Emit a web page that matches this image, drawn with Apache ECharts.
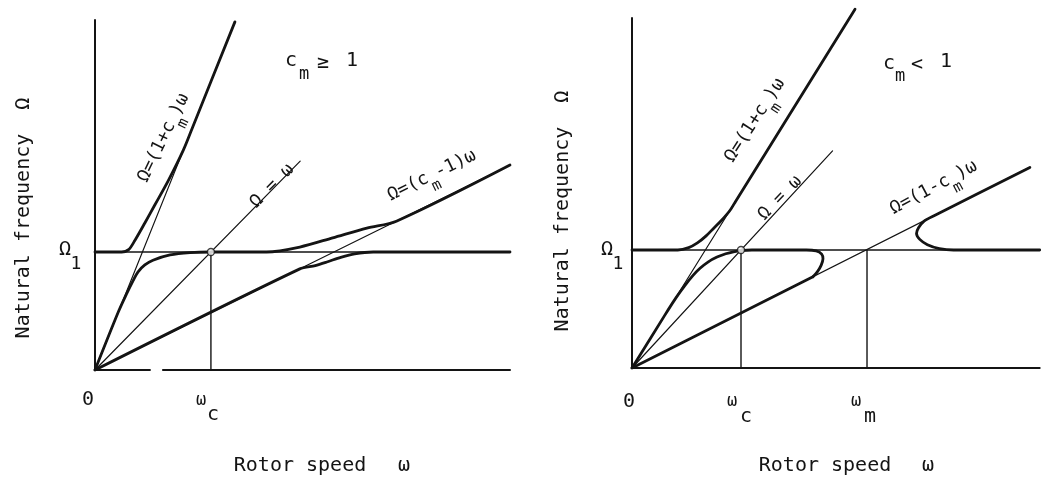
<!DOCTYPE html>
<html>
<head>
<meta charset="utf-8">
<script src="https://cdn.jsdelivr.net/npm/echarts@6/dist/echarts.min.js"></script>
<style>
  html, body { margin: 0; padding: 0; background: #fff; }
  #chart { width: 1048px; height: 495px; }
</style>
</head>
<body>
<div id="chart"></div>
<script>
// Units: rotor speed in multiples of ωc, natural frequency in multiples of Ω1.

// ---- left panel: c_m >= 1 ----
const leftFrameX1 = [[0, 0], [0.474, 0]];
const leftFrameX2 = [[0.586, 0], [3.58, 0]];
const leftFrameY = [[0, 0], [0, 2.966]];
const leftOmega1 = [[0, 1], [3.58, 1]];
const leftOmegaC = [[1, 0], [1, 1]];
const leftSumLine = [[0, 0], [1.207, 2.95]];      // Ω=(1+cm)ω
const leftEqLine = [[0, 0], [1.77, 1.77]];        // Ω=ω
const leftDiffLine = [[0, 0], [3.58, 1.737]];     // Ω=(cm-1)ω
const leftBranchTop = [[0, 1], [0.23, 1.0], [0.29, 1.02], [0.345, 1.10], [0.43, 1.246],
  [0.517, 1.40], [0.63, 1.60], [0.763, 1.865], [0.85, 2.077], [1.207, 2.95]];
const leftBranchMid = [[0, 0], [0.2, 0.489], [0.27, 0.64], [0.33, 0.76], [0.37, 0.83],
  [0.43, 0.89], [0.5, 0.93], [0.647, 0.975], [0.82, 0.995], [1.0, 1.0], [1.48, 1.0],
  [1.767, 1.042], [2.05, 1.12], [2.345, 1.203], [2.6, 1.261], [3.58, 1.737]];
const leftBranchLow = [[0, 0], [1.767, 0.857], [1.9, 0.885], [2.0, 0.915], [2.12, 0.955],
  [2.24, 0.985], [2.4, 1.0], [3.58, 1.0]];
const leftCross = [[1, 1]];

// ---- right panel: c_m < 1 ----
const rightFrameX = [[0, 0], [3.74, 0]];
const rightFrameY = [[0, 0], [0, 2.966]];
const rightOmega1 = [[0, 1], [3.74, 1]];
const rightOmegaC = [[1, 0], [1, 1]];
const rightOmegaM = [[2.156, 0], [2.156, 1]];
const rightSumLine = [[0, 0], [2.046, 3.04]];     // Ω=(1+cm)ω
const rightEqLine = [[0, 0], [1.84, 1.84]];       // Ω=ω
const rightDiffLine = [[0, 0], [3.65, 1.70]];     // Ω=(1-cm)ω
const rightBranchTop = [[0, 1], [0.42, 1.0], [0.52, 1.02], [0.6, 1.06], [0.68, 1.12],
  [0.75, 1.185], [0.82, 1.25], [0.9, 1.337], [0.95, 1.412], [2.046, 3.04]];
const rightBranchMid = [[0, 0], [0.3, 0.446], [0.4, 0.59], [0.486, 0.70], [0.56, 0.785],
  [0.624, 0.845], [0.7, 0.9], [0.78, 0.94], [0.86, 0.968], [0.93, 0.985], [1.0, 0.995],
  [1.1, 1.0], [1.6, 1.0], [1.69, 0.992], [1.74, 0.965], [1.752, 0.925], [1.735, 0.87],
  [1.7, 0.815], [1.66, 0.774]];
const rightBranchLow = [[0, 0], [1.66, 0.774]];
const rightBranchOuter = [[3.65, 1.70], [2.78, 1.295], [2.68, 1.245], [2.63, 1.19],
  [2.61, 1.14], [2.64, 1.09], [2.71, 1.045], [2.82, 1.012], [2.95, 1.0], [3.74, 1.0]];
const rightCross = [[1, 1]];

const INK = '#141414';
const FONT = '"DejaVu Sans Mono", "Liberation Mono", monospace';

function line(idx, data, width, smooth) {
  return {
    type: 'line', xAxisIndex: idx, yAxisIndex: idx, data: data,
    showSymbol: false, silent: true, animation: false,
    smooth: smooth || false,
    lineStyle: { color: INK, width: width, cap: 'round', join: 'round' }
  };
}
function dot(idx, data) {
  return {
    type: 'scatter', xAxisIndex: idx, yAxisIndex: idx, data: data, z: 5,
    symbol: 'circle', symbolSize: 7, silent: true, animation: false,
    itemStyle: { color: '#fff', borderColor: INK, borderWidth: 1.4 }
  };
}
function hiddenAxis(idx, max) {
  return {
    type: 'value', gridIndex: idx, min: 0, max: max,
    axisLine: { show: false }, axisTick: { show: false },
    axisLabel: { show: false }, splitLine: { show: false }
  };
}
function txt(text, x, y, size, rot) {
  return {
    type: 'text', x: x, y: y, rotation: rot ? rot * Math.PI / 180 : 0, silent: true,
    style: { text: text, font: size + 'px ' + FONT, fill: INK, align: 'center', verticalAlign: 'middle' }
  };
}
function subTxt(pre, sub, post, x, y, size, rot) {
  return {
    type: 'text', x: x, y: y, rotation: rot * Math.PI / 180, silent: true,
    style: {
      text: '{b|' + pre + '}{s|' + sub + '}{b|' + post + '}',
      align: 'center', verticalAlign: 'middle', fill: INK,
      rich: {
        b: { font: size + 'px ' + FONT, fill: INK, lineHeight: size + 10, verticalAlign: 'top' },
        s: { font: (size - 3) + 'px ' + FONT, fill: INK, lineHeight: size + 10, verticalAlign: 'bottom' }
      }
    }
  };
}

const chart = echarts.init(document.getElementById('chart'), null, { renderer: 'canvas' });
chart.setOption({
  backgroundColor: '#fff',
  animation: false,
  grid: [
    { left: 95, top: 20, width: 415, height: 350 },
    { left: 632, top: 8, width: 408, height: 360 }
  ],
  xAxis: [hiddenAxis(0, 3.58), hiddenAxis(1, 3.743)],
  yAxis: [hiddenAxis(0, 2.966), hiddenAxis(1, 3.051)],
  series: [
    line(0, leftFrameX1, 2), line(0, leftFrameX2, 2), line(0, leftFrameY, 2),
    line(0, leftOmega1, 1.4), line(0, leftOmegaC, 1.4),
    line(0, leftSumLine, 1.2), line(0, leftEqLine, 1.2), line(0, leftDiffLine, 1.2),
    line(0, leftBranchTop, 2.8, 0.3), line(0, leftBranchMid, 2.8, 0.3), line(0, leftBranchLow, 2.8, 0.3),
    dot(0, leftCross),

    line(1, rightFrameX, 2), line(1, rightFrameY, 2),
    line(1, rightOmega1, 1.4), line(1, rightOmegaC, 1.4), line(1, rightOmegaM, 1.4),
    line(1, rightSumLine, 1.2), line(1, rightEqLine, 1.2), line(1, rightDiffLine, 1.2),
    line(1, rightBranchTop, 2.8, 0.3), line(1, rightBranchMid, 2.8, 0.3),
    line(1, rightBranchLow, 2.8), line(1, rightBranchOuter, 2.8, 0.3),
    dot(1, rightCross)
  ],
  graphic: [
    // left panel text
    txt('Natural frequency  Ω', 24, 218, 20, 90),
    txt('Rotor speed', 300, 466, 20),
    txt('ω', 404, 466, 20),
    txt('0', 88, 400, 20),
    txt('ω', 201, 401, 17), txt('c', 213, 415, 20),
    txt('Ω', 65, 250, 20), txt('1', 76, 264, 18),
    txt('c', 291, 61, 20), txt('m', 304, 75, 17), txt('≥', 323, 63, 20), txt('1', 352, 61, 20),
    subTxt('Ω=(1+c', 'm', ')ω', 168, 140, 18, 64),
    txt('Ω = ω', 272, 186, 18, 45),
    subTxt('Ω=(c', 'm', '-1)ω', 434, 180, 18, 26),

    // right panel text
    txt('Natural frequency  Ω', 563, 211, 20, 90),
    txt('Rotor speed', 825, 466, 20),
    txt('ω', 928, 466, 20),
    txt('0', 629, 402, 20),
    txt('ω', 732, 402, 17), txt('c', 746, 417, 20),
    txt('ω', 856, 402, 17), txt('m', 870, 417, 20),
    txt('Ω', 607, 250, 20), txt('1', 618, 264, 18),
    txt('c', 889, 64, 20), txt('m', 900, 77, 17), txt('<', 917, 65, 20), txt('1', 946, 62, 20),
    subTxt('Ω=(1+c', 'm', ')ω', 759, 123, 18, 57),
    txt('Ω = ω', 780, 198, 18, 46),
    subTxt('Ω=(1-c', 'm', ')ω', 936, 192, 18, 28)
  ]
});
</script>
</body>
</html>
